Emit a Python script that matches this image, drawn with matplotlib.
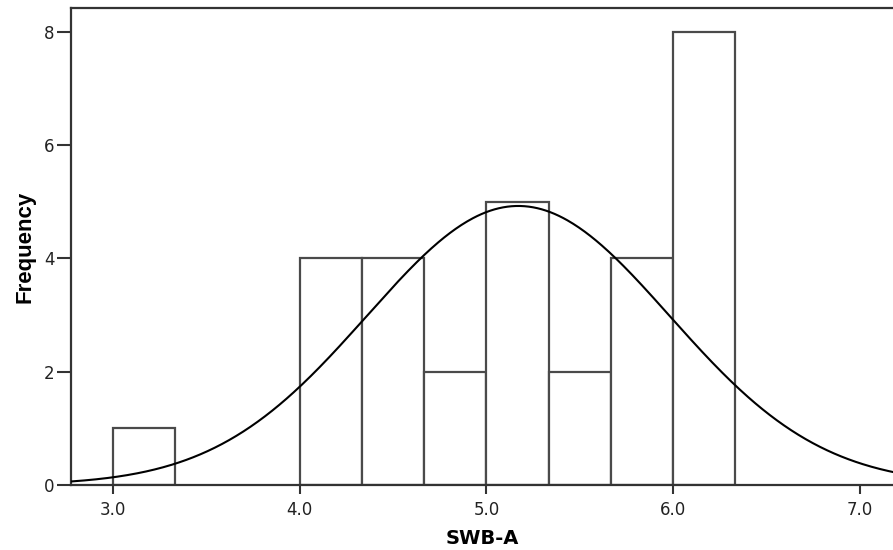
import numpy as np
import matplotlib
matplotlib.use("Agg")
import matplotlib.pyplot as plt

# Histogram data (SWB-A)
bin_lefts = [3.0, 4.0, 4.3333, 4.6667, 5.0, 5.3333, 5.6667, 6.0]
bin_width = 1.0 / 3.0
counts = [1, 4, 4, 2, 5, 2, 4, 8]

# Normal curve parameters
mean_val = 5.17
sd_val = 0.81
n_total = sum(counts)

x_ticks = [3.0, 4.0, 5.0, 6.0, 7.0]
y_ticks = [0, 2, 4, 6, 8]

fig = plt.figure(figsize=(8.93, 5.5), dpi=100)
ax = fig.add_axes([0.0795, 0.1182, 1.0 - 0.0795, 0.9855 - 0.1182])

ax.bar(bin_lefts, counts, width=bin_width, align="edge", facecolor="white",
       edgecolor="#4a4a4a", linewidth=1.6, zorder=2)

xs = np.linspace(2.7, 7.3, 600)
ys = n_total * bin_width / (sd_val * np.sqrt(2 * np.pi)) * np.exp(-0.5 * ((xs - mean_val) / sd_val) ** 2)
ax.plot(xs, ys, color="black", linewidth=1.5, zorder=3)

ax.set_xlim(2.775, 7.177)
ax.set_ylim(0, 8.42)
ax.set_xticks(x_ticks)
ax.set_xticklabels([f"{v:.1f}" for v in x_ticks])
ax.set_yticks(y_ticks)

for side in ["left", "top", "bottom"]:
    ax.spines[side].set_color("#333333")
    ax.spines[side].set_linewidth(1.6)
ax.spines["right"].set_visible(False)

ax.tick_params(axis="y", length=10, width=1.5, color="#333333", labelsize=12, pad=2)
ax.tick_params(axis="x", length=6.5, width=1.5, color="#333333", labelsize=12, pad=5)
for lbl in ax.get_xticklabels() + ax.get_yticklabels():
    lbl.set_fontfamily("DejaVu Sans")
    lbl.set_color("#222222")

ax.set_ylabel("Frequency", fontsize=16, fontweight="bold",
              family=["Liberation Sans Narrow", "Liberation Sans", "DejaVu Sans"], labelpad=6)
ax.set_xlabel("SWB-A", fontsize=14, fontweight="bold", family=["DejaVu Sans"], labelpad=7)

fig.savefig("out.png", dpi=100)
